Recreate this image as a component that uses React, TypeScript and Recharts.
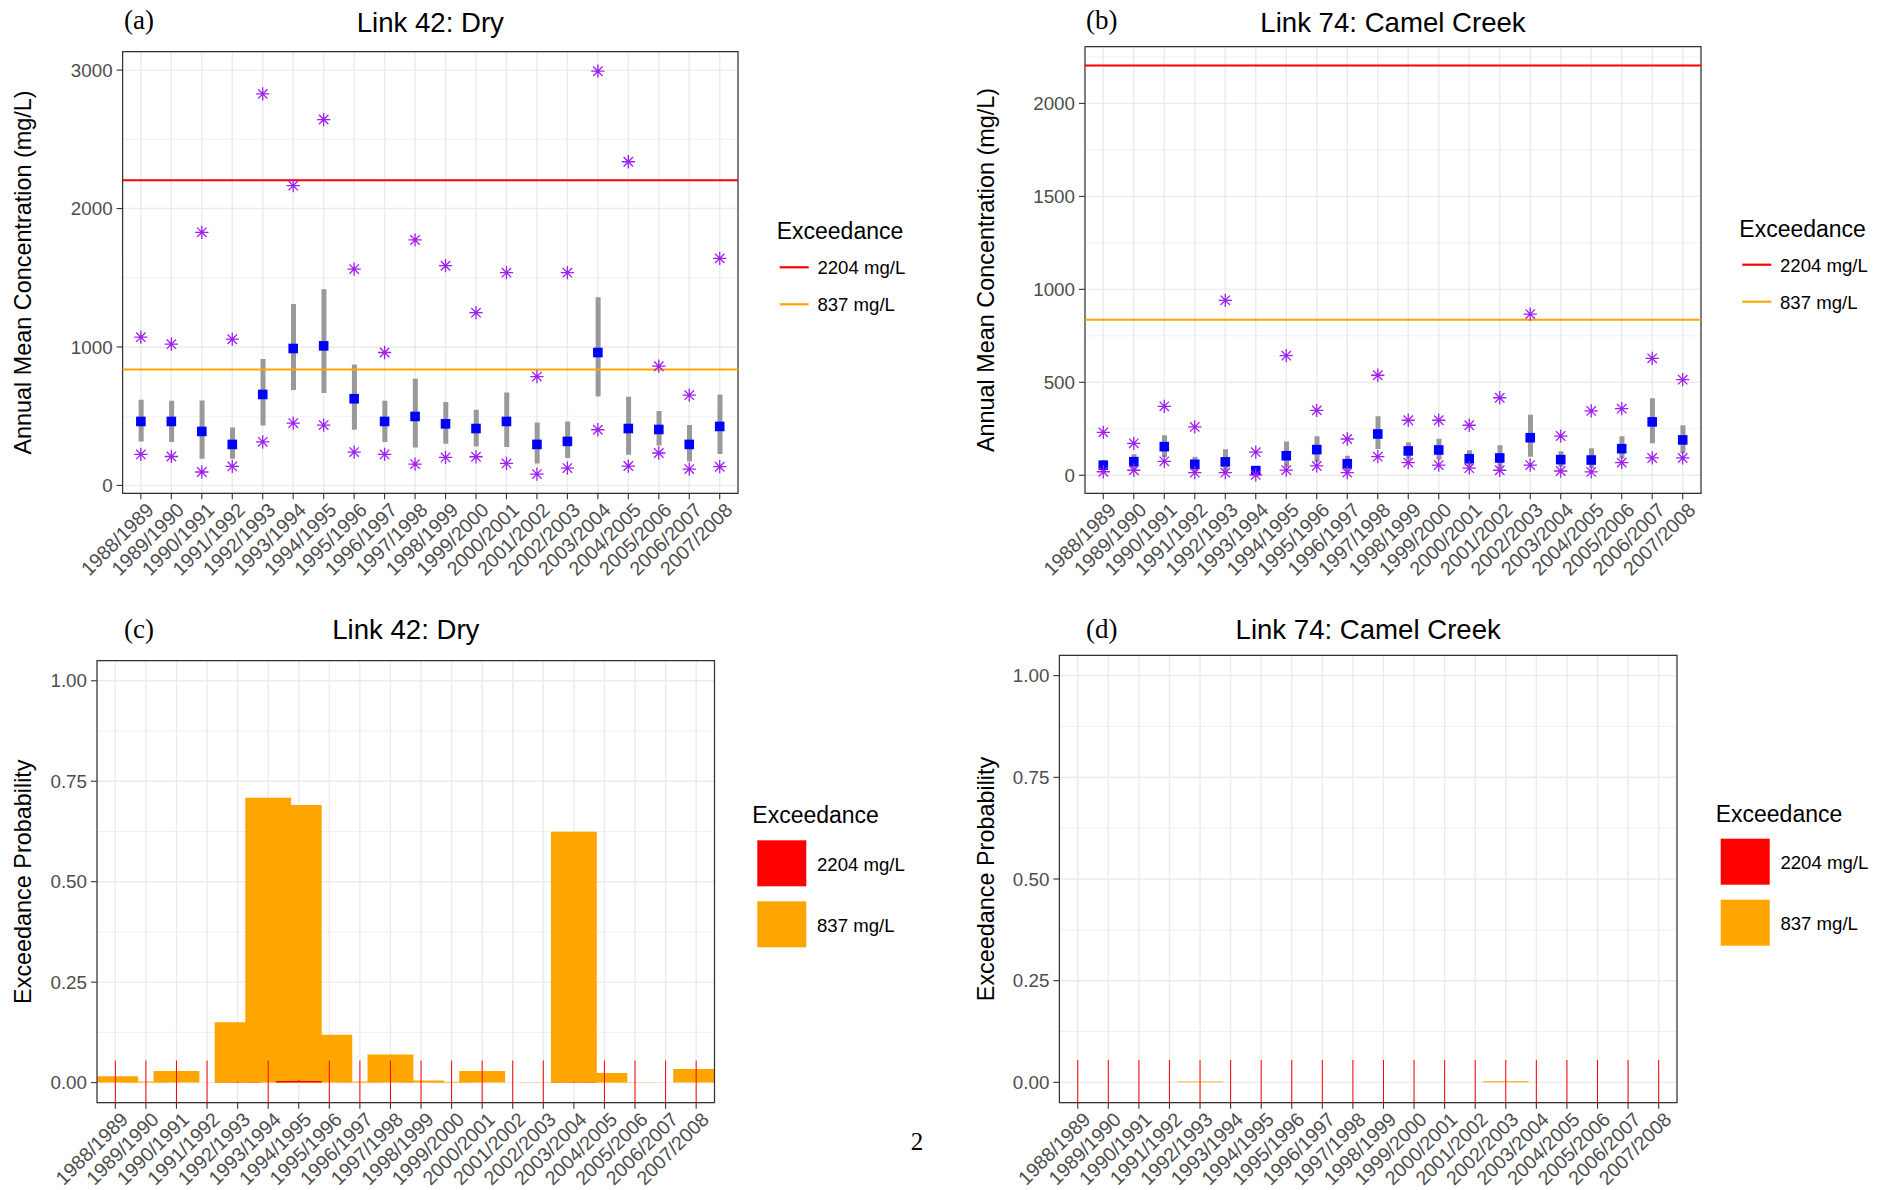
import React from 'react';
import {
  ComposedChart,
  XAxis,
  YAxis,
  CartesianGrid,
  Scatter,
  Bar,
  ReferenceLine,
  ReferenceArea,
} from 'recharts';

const SANS = "'Liberation Sans', Arial, Helvetica, sans-serif";
const SERIF = "'Liberation Serif', 'DejaVu Serif', serif";
const TICK_GREY = '#4D4D4D';
const BORDER = '#333333';
const GRID = '#EBEBEB';
const RED = '#FF0000';
const ORANGE = '#FFA500';
const PURPLE = '#A020F0';
const BLUE = '#0000FF';
const INTERVAL_GREY = '#999999';

// Hydrological years on the x axis
const seasons = [
  '1988/1989', '1989/1990', '1990/1991', '1991/1992', '1992/1993',
  '1993/1994', '1994/1995', '1995/1996', '1996/1997', '1997/1998',
  '1998/1999', '1999/2000', '2000/2001', '2001/2002', '2002/2003',
  '2003/2004', '2004/2005', '2005/2006', '2006/2007', '2007/2008',
];
const seasonIndex = seasons.map((_, i) => i);

// Link 42 (Dry): annual mean concentration, mg/L
const dryMean = [462, 462, 390, 296, 657, 989, 1008, 626, 462, 498, 445, 411, 462, 296, 318, 960, 411, 404, 296, 426];
const dryLower = [317, 313, 193, 193, 433, 690, 667, 402, 313, 274, 301, 281, 277, 159, 198, 642, 221, 289, 173, 227];
const dryUpper = [618, 611, 613, 418, 914, 1311, 1417, 873, 611, 770, 602, 546, 671, 455, 462, 1359, 640, 537, 436, 657];
const dryMin = [224, 209, 97, 137, 315, 450, 436, 241, 224, 154, 202, 207, 159, 82, 125, 402, 140, 234, 118, 135];
const dryMax = [1071, 1020, 1828, 1056, 2828, 2165, 2643, 1563, 960, 1773, 1587, 1248, 1537, 786, 1537, 2992, 2338, 861, 652, 1640];

// Link 74 (Camel Creek): annual mean concentration, mg/L
const camelMean = [54, 73, 154, 59, 72, 25, 105, 138, 62, 222, 131, 136, 89, 93, 202, 84, 82, 143, 287, 190];
const camelLower = [25, 30, 97, 20, 12, 2, 45, 70, 20, 141, 85, 85, 46, 38, 100, 46, 38, 90, 172, 118];
const camelUpper = [82, 113, 215, 100, 140, 46, 181, 210, 105, 317, 177, 197, 134, 161, 326, 129, 145, 210, 414, 269];
const camelMin = [19, 27, 75, 14, 14, 2, 28, 50, 14, 100, 68, 55, 38, 27, 55, 23, 18, 68, 93, 93];
const camelMax = [231, 172, 371, 260, 941, 124, 643, 349, 195, 538, 296, 296, 269, 417, 867, 211, 346, 358, 629, 514];

// Exceedance probabilities
const dryExceed837 = [0.016, 0.003, 0.029, 0, 0.15, 0.709, 0.691, 0.119, 0.003, 0.07, 0.005, 0.002, 0.029, 0, 0.001, 0.624, 0.024, 0.001, 0, 0.034];
const dryExceed2204 = [0, 0, 0, 0, 0.001, 0, 0.004, 0, 0, 0, 0, 0, 0, 0, 0, 0.001, 0, 0, 0, 0];
const dryCi2204Low = [-0.055, -0.055, -0.055, -0.055, 0, -0.055, 0.002, -0.055, -0.055, -0.055, -0.055, -0.055, -0.055, -0.055, -0.055, 0, -0.055, -0.055, -0.055, -0.055];
const dryCi2204High = [0.055, 0.055, 0.055, 0.055, 0.002, 0.055, 0.007, 0.055, 0.055, 0.055, 0.055, 0.055, 0.055, 0.055, 0.055, 0.002, 0.055, 0.055, 0.055, 0.055];

const camelExceed837 = [0, 0, 0, 0, 0.002, 0, 0, 0, 0, 0, 0, 0, 0, 0, 0.003, 0, 0, 0, 0, 0];
const camelExceed2204 = [0, 0, 0, 0, 0, 0, 0, 0, 0, 0, 0, 0, 0, 0, 0, 0, 0, 0, 0, 0];
const camelCi2204Low = seasons.map(() => -0.055);
const camelCi2204High = seasons.map(() => 0.055);

const thresholds = [
  { value: 2204, label: '2204 mg/L', color: RED },
  { value: 837, label: '837 mg/L', color: ORANGE },
];

const X_DOMAIN: [number, number] = [-0.6, 19.6];
const BAR_HALF_WIDTH = 0.75;
const PROB_DOMAIN: [number, number] = [-0.05, 1.05];
const PROB_TICKS = [0, 0.25, 0.5, 0.75, 1];
const PROB_MINOR = [0.125, 0.375, 0.625, 0.875];

type Box = { left: number; top: number; width: number; height: number };
type Plot = { L: number; T: number; R: number; B: number };

const SeasonTick = (props: any) => {
  const { x, y, payload } = props;
  const label = seasons[payload.value] ?? '';
  const ax = x + 4;
  const ay = y;
  return (
    <text
      x={ax}
      y={ay}
      dy="0.72em"
      transform={`rotate(-45, ${ax}, ${ay})`}
      textAnchor="end"
      fontSize={19.6}
      fontFamily={SANS}
      fill={TICK_GREY}
    >
      {label}
    </text>
  );
};

const SquareMark = (props: any) => {
  const { cx, cy } = props;
  if (cx == null || cy == null) return null;
  const s = 9.6;
  return <rect x={cx - s / 2} y={cy - s / 2} width={s} height={s} fill={BLUE} />;
};

const Asterisk = (props: any) => {
  const { cx, cy } = props;
  if (cx == null || cy == null) return null;
  const r = 4.7;
  const q = r * Math.SQRT2;
  const d =
    `M${cx - r},${cy - r}L${cx + r},${cy + r}` +
    `M${cx - r},${cy + r}L${cx + r},${cy - r}` +
    `M${cx - q},${cy}L${cx + q},${cy}` +
    `M${cx},${cy - q}L${cx},${cy + q}`;
  return <path d={d} stroke={PURPLE} strokeWidth={1.3} fill="none" />;
};

function axisProps(box: Box, plot: Plot) {
  return {
    margin: {
      top: plot.T - box.top,
      right: box.left + box.width - plot.R,
      bottom: 0,
      left: 0,
    },
    xHeight: box.top + box.height - plot.B,
    yWidth: plot.L - box.left,
  };
}

function ConcentrationChart({
  box, plot, yDomain, yTicks, yMinor, mean, lower, upper, min, max,
}: {
  box: Box; plot: Plot; yDomain: [number, number]; yTicks: number[]; yMinor: number[];
  mean: number[]; lower: number[]; upper: number[]; min: number[]; max: number[];
}) {
  const rows = seasons.map((s, i) => ({
    idx: i,
    season: s,
    mean: mean[i],
    interval: [lower[i], upper[i]],
    min: min[i],
    max: max[i],
  }));
  const { margin, xHeight, yWidth } = axisProps(box, plot);
  return (
    <div style={{ position: 'absolute', left: box.left, top: box.top }}>
      <ComposedChart width={box.width} height={box.height} data={rows} margin={margin}>
        <CartesianGrid stroke={GRID} strokeWidth={0.7} vertical={false} horizontalValues={yMinor} />
        <CartesianGrid stroke={GRID} strokeWidth={1.4} />
        <XAxis
          type="number"
          dataKey="idx"
          domain={X_DOMAIN}
          ticks={seasonIndex}
          interval={0}
          allowDataOverflow
          axisLine={false}
          tickLine={{ stroke: BORDER, strokeWidth: 1.1 }}
          tickSize={6}
          tickMargin={2}
          height={xHeight}
          tick={(p: any) => <SeasonTick {...p} />}
        />
        <YAxis
          type="number"
          domain={yDomain}
          ticks={yTicks}
          interval={0}
          allowDataOverflow
          axisLine={false}
          tickLine={{ stroke: BORDER, strokeWidth: 1.1 }}
          tickSize={6}
          tickMargin={4}
          width={yWidth}
          tick={{ fontSize: 18.8, fill: TICK_GREY, fontFamily: SANS }}
        />
        <Bar dataKey="interval" barSize={5} fill={INTERVAL_GREY} isAnimationActive={false} />
        {thresholds.map((t) => (
          <ReferenceLine key={t.label} y={t.value} stroke={t.color} strokeWidth={2} />
        ))}
        <Scatter dataKey="mean" shape={SquareMark} isAnimationActive={false} />
        <Scatter dataKey="min" shape={Asterisk} isAnimationActive={false} />
        <Scatter dataKey="max" shape={Asterisk} isAnimationActive={false} />
        <ReferenceArea
          x1={X_DOMAIN[0]}
          x2={X_DOMAIN[1]}
          y1={yDomain[0]}
          y2={yDomain[1]}
          fill="none"
          stroke={BORDER}
          strokeWidth={1.2}
          ifOverflow="visible"
        />
      </ComposedChart>
    </div>
  );
}

function ProbabilityChart({
  box, plot, p837, p2204, ciLow, ciHigh,
}: {
  box: Box; plot: Plot; p837: number[]; p2204: number[]; ciLow: number[]; ciHigh: number[];
}) {
  const rows = seasons.map((s, i) => ({ idx: i, season: s, p837: p837[i], p2204: p2204[i] }));
  const { margin, xHeight, yWidth } = axisProps(box, plot);
  return (
    <div style={{ position: 'absolute', left: box.left, top: box.top }}>
      <ComposedChart width={box.width} height={box.height} data={rows} margin={margin}>
        <CartesianGrid stroke={GRID} strokeWidth={0.7} vertical={false} horizontalValues={PROB_MINOR} />
        <CartesianGrid stroke={GRID} strokeWidth={1.4} />
        <XAxis
          type="number"
          dataKey="idx"
          domain={X_DOMAIN}
          ticks={seasonIndex}
          interval={0}
          allowDataOverflow
          axisLine={false}
          tickLine={{ stroke: BORDER, strokeWidth: 1.1 }}
          tickSize={6}
          tickMargin={2}
          height={xHeight}
          tick={(p: any) => <SeasonTick {...p} />}
        />
        <YAxis
          type="number"
          domain={PROB_DOMAIN}
          ticks={PROB_TICKS}
          interval={0}
          allowDataOverflow
          axisLine={false}
          tickLine={{ stroke: BORDER, strokeWidth: 1.1 }}
          tickSize={6}
          tickMargin={4}
          width={yWidth}
          tickFormatter={(v: number) => v.toFixed(2)}
          tick={{ fontSize: 18.8, fill: TICK_GREY, fontFamily: SANS }}
        />
        {p837.map((p, i) => (
          <ReferenceArea
            key={`o${i}`}
            x1={i - BAR_HALF_WIDTH}
            x2={i + BAR_HALF_WIDTH}
            y1={0}
            y2={p}
            fill={ORANGE}
            fillOpacity={1}
            stroke="none"
            ifOverflow="hidden"
          />
        ))}
        {p2204.map((p, i) => (
          <ReferenceArea
            key={`r${i}`}
            x1={i - BAR_HALF_WIDTH}
            x2={i + BAR_HALF_WIDTH}
            y1={0}
            y2={p}
            fill={RED}
            fillOpacity={1}
            stroke="none"
            ifOverflow="hidden"
          />
        ))}
        {ciLow.map((lo, i) => (
          <ReferenceLine
            key={`e${i}`}
            segment={[{ x: i, y: lo }, { x: i, y: ciHigh[i] }]}
            stroke={RED}
            strokeWidth={1}
            ifOverflow="hidden"
          />
        ))}
        <ReferenceArea
          x1={X_DOMAIN[0]}
          x2={X_DOMAIN[1]}
          y1={PROB_DOMAIN[0]}
          y2={PROB_DOMAIN[1]}
          fill="none"
          stroke={BORDER}
          strokeWidth={1.2}
          ifOverflow="visible"
        />
      </ComposedChart>
    </div>
  );
}

function PanelText({
  tag, tagX, tagY, title, titleX, titleY, yTitle, yTitleX, yTitleY,
}: {
  tag: string; tagX: number; tagY: number; title: string; titleX: number; titleY: number;
  yTitle: string; yTitleX: number; yTitleY: number;
}) {
  return (
    <g>
      <text x={tagX} y={tagY} fontFamily={SERIF} fontSize={27} fill="#000">{tag}</text>
      <text x={titleX} y={titleY} textAnchor="middle" fontFamily={SANS} fontSize={27.6} fill="#000">{title}</text>
      <text
        transform={`translate(${yTitleX}, ${yTitleY}) rotate(-90)`}
        textAnchor="middle"
        fontFamily={SANS}
        fontSize={23.4}
        fill="#000"
      >
        {yTitle}
      </text>
    </g>
  );
}

function LineLegend({ x, y }: { x: number; y: number }) {
  return (
    <g fontFamily={SANS}>
      <text x={x} y={y} fontSize={23} fill="#000">Exceedance</text>
      {thresholds.map((t, k) => (
        <g key={t.label}>
          <line x1={x + 3} x2={x + 32} y1={y + 28 + k * 37} y2={y + 28 + k * 37} stroke={t.color} strokeWidth={2.2} />
          <text x={x + 40.7} y={y + 35 + k * 37} fontSize={18.6} fill="#000">{t.label}</text>
        </g>
      ))}
    </g>
  );
}

function BoxLegend({ x, y }: { x: number; y: number }) {
  return (
    <g fontFamily={SANS}>
      <text x={x} y={y} fontSize={23} fill="#000">Exceedance</text>
      {thresholds.map((t, k) => (
        <g key={t.label}>
          <rect x={x + 5} y={y + 17 + k * 61} width={49} height={46} fill={t.color} />
          <text x={x + 64.7} y={y + 47.7 + k * 61} fontSize={18.6} fill="#000">{t.label}</text>
        </g>
      ))}
    </g>
  );
}

export default function App() {
  return (
    <div
      style={{
        position: 'absolute',
        left: 0,
        top: 0,
        width: 1892,
        height: 1190,
        background: '#fff',
        overflow: 'hidden',
      }}
    >
      <ConcentrationChart
        box={{ left: 0, top: 0, width: 760, height: 600 }}
        plot={{ L: 122.6, T: 51.7, R: 738, B: 493.3 }}
        yDomain={[-57, 3133]}
        yTicks={[0, 1000, 2000, 3000]}
        yMinor={[500, 1500, 2500]}
        mean={dryMean}
        lower={dryLower}
        upper={dryUpper}
        min={dryMin}
        max={dryMax}
      />
      <ConcentrationChart
        box={{ left: 960, top: 0, width: 760, height: 600 }}
        plot={{ L: 1085, T: 46.7, R: 1701, B: 493.3 }}
        yDomain={[-97, 2305]}
        yTicks={[0, 500, 1000, 1500, 2000]}
        yMinor={[250, 750, 1250, 1750, 2250]}
        mean={camelMean}
        lower={camelLower}
        upper={camelUpper}
        min={camelMin}
        max={camelMax}
      />
      <ProbabilityChart
        box={{ left: 0, top: 600, width: 740, height: 590 }}
        plot={{ L: 97, T: 660.7, R: 714.5, B: 1102.7 }}
        p837={dryExceed837}
        p2204={dryExceed2204}
        ciLow={dryCi2204Low}
        ciHigh={dryCi2204High}
      />
      <ProbabilityChart
        box={{ left: 960, top: 600, width: 740, height: 590 }}
        plot={{ L: 1059.4, T: 655.3, R: 1677, B: 1102.7 }}
        p837={camelExceed837}
        p2204={camelExceed2204}
        ciLow={camelCi2204Low}
        ciHigh={camelCi2204High}
      />
      <svg
        width={1892}
        height={1190}
        style={{ position: 'absolute', left: 0, top: 0, pointerEvents: 'none' }}
      >
        <PanelText
          tag="(a)" tagX={124} tagY={29}
          title="Link 42: Dry" titleX={430.3} titleY={32}
          yTitle="Annual Mean Concentration (mg/L)" yTitleX={31} yTitleY={272.5}
        />
        <PanelText
          tag="(b)" tagX={1086} tagY={29}
          title="Link 74: Camel Creek" titleX={1393} titleY={32}
          yTitle="Annual Mean Concentration (mg/L)" yTitleX={993.5} yTitleY={270}
        />
        <PanelText
          tag="(c)" tagX={124} tagY={638}
          title="Link 42: Dry" titleX={405.8} titleY={639.3}
          yTitle="Exceedance Probability" yTitleX={31} yTitleY={881.7}
        />
        <PanelText
          tag="(d)" tagX={1086} tagY={638}
          title="Link 74: Camel Creek" titleX={1368.2} titleY={639.3}
          yTitle="Exceedance Probability" yTitleX={993.5} yTitleY={879}
        />
        <LineLegend x={776.7} y={239.3} />
        <LineLegend x={1739.3} y={236.7} />
        <BoxLegend x={752.3} y={823.3} />
        <BoxLegend x={1715.7} y={821.7} />
        <text x={917} y={1150} textAnchor="middle" fontFamily={SERIF} fontSize={25} fill="#000">2</text>
      </svg>
    </div>
  );
}
